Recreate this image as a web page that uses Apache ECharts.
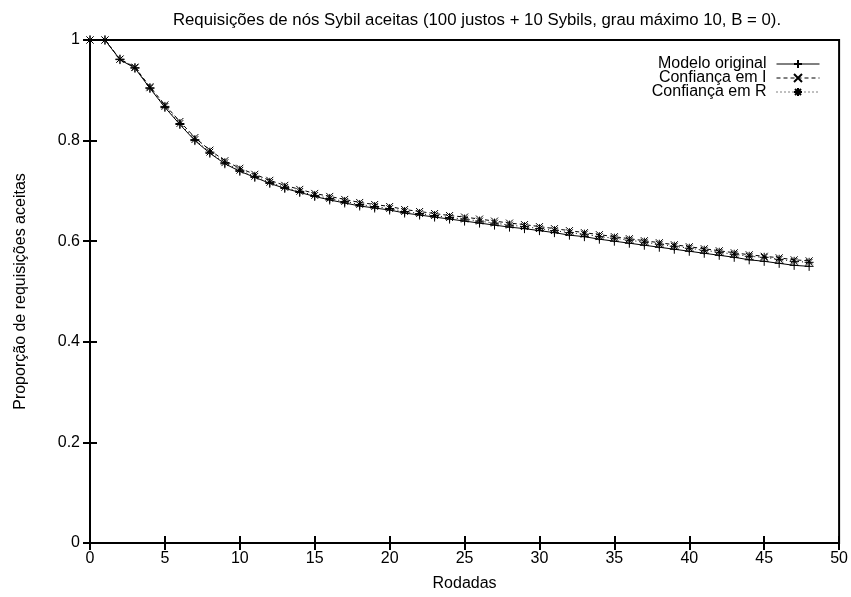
<!DOCTYPE html>
<html>
<head>
<meta charset="utf-8">
<script src="https://cdn.jsdelivr.net/npm/echarts@6/dist/echarts.min.js"></script>
<style>html,body{margin:0;padding:0;background:#fff}#c{width:851px;height:597px}</style>
</head>
<body>
<div id="c"></div>
<script>
var rounds = [];
for (var i = 0; i <= 48; i++) rounds.push(i);
var seriesNames = ['Modelo original', 'Confiança em I', 'Confiança em R'];
var modeloOriginal = [1.000,1.000,0.961,0.944,0.904,0.866,0.832,0.800,0.775,0.754,0.739,0.727,0.715,0.705,0.697,0.689,0.682,0.676,0.670,0.666,0.662,0.656,0.652,0.648,0.644,0.640,0.636,0.632,0.628,0.625,0.621,0.617,0.612,0.609,0.604,0.600,0.596,0.592,0.588,0.584,0.580,0.576,0.572,0.568,0.563,0.560,0.556,0.552,0.550];
var confiancaI = [1.000,1.000,0.962,0.946,0.907,0.871,0.838,0.806,0.781,0.760,0.745,0.733,0.721,0.711,0.703,0.695,0.689,0.683,0.677,0.673,0.669,0.663,0.659,0.655,0.651,0.648,0.644,0.640,0.636,0.633,0.629,0.625,0.621,0.617,0.613,0.609,0.605,0.601,0.597,0.593,0.589,0.585,0.581,0.577,0.573,0.570,0.567,0.563,0.561];
var confiancaR = [1.000,1.000,0.962,0.945,0.905,0.868,0.834,0.802,0.777,0.756,0.741,0.729,0.717,0.707,0.699,0.691,0.685,0.679,0.673,0.669,0.665,0.659,0.655,0.651,0.647,0.644,0.640,0.636,0.632,0.629,0.625,0.621,0.617,0.614,0.609,0.606,0.602,0.598,0.594,0.590,0.586,0.582,0.578,0.574,0.570,0.568,0.564,0.560,0.558];
var xTicks = [0,5,10,15,20,25,30,35,40,45,50];
var yTicks = [0,0.2,0.4,0.6,0.8,1];

function pairs(vals){ return rounds.map(function(r, k){ return [r, vals[k]]; }); }

var FONT = 'Liberation Sans, Arial, sans-serif';
var FS = 16;
var plusSym = 'path://M0,-1L0,1M-1,0L1,0';
var xSym = 'path://M-1,-1L1,1M-1,1L1,-1';
var starSym = 'path://M0,-1L0,1M-1,0L1,0M-0.75,-0.75L0.75,0.75M-0.75,0.75L0.75,-0.75';

function mkSeries(name, vals, sym, size, dash){
  return {
    name: name, type: 'line', data: pairs(vals),
    symbol: sym, symbolSize: size, showSymbol: true,
    lineStyle: {color: '#000', width: 1, type: dash},
    itemStyle: {color: 'none', borderColor: '#000', borderWidth: 1},
    emphasis: {disabled: true}, animation: false, z: 3
  };
}

var chart = echarts.init(document.getElementById('c'), null, {renderer: 'canvas'});
chart.setOption({
  animation: false,
  backgroundColor: '#fff',
  title: {
    text: 'Requisições de nós Sybil aceitas (100 justos + 10 Sybils, grau máximo 10, B = 0).',
    left: 472, top: 7, textAlign: 'center',
    textStyle: {fontFamily: FONT, fontSize: 16.8, fontWeight: 'normal', color: '#000'}
  },
  legend: {
    data: seriesNames, orient: 'vertical', align: 'right',
    right: 26, top: 51, itemGap: -2, itemWidth: 43, itemHeight: 10,
    textStyle: {fontFamily: FONT, fontSize: FS, color: '#000', padding: [0, 5, 0, 0]},
    lineStyle: {width: 1, color: '#000'},
    selectedMode: false
  },
  grid: {left: 90, right: 11, top: 40, bottom: 52, show: true, borderColor: '#000', borderWidth: 2, backgroundColor: 'transparent'},
  xAxis: [{
    type: 'value', min: 0, max: 50, interval: 5,
    name: 'Rodadas', nameLocation: 'middle', nameGap: 33,
    nameTextStyle: {fontFamily: FONT, fontSize: FS, color: '#000'},
    axisLine: {show: false},
    axisTick: {show: true, inside: true, length: 7, lineStyle: {color: '#000', width: 2}},
    axisLabel: {fontFamily: FONT, fontSize: FS, color: '#000', margin: 8},
    splitLine: {show: false}
  }, {
    type: 'value', min: 0, max: 50, interval: 5, position: 'top',
    axisLine: {show: false},
    axisTick: {show: true, inside: true, length: 7, lineStyle: {color: '#000', width: 2}},
    axisLabel: {show: false}, splitLine: {show: false}
  }],
  yAxis: [{
    type: 'value', min: 0, max: 1, interval: 0.2,
    name: 'Proporção de requisições aceitas', nameLocation: 'middle', nameGap: 61, nameRotate: 90,
    nameTextStyle: {fontFamily: FONT, fontSize: FS, color: '#000'},
    axisLine: {show: false},
    axisTick: {show: true, inside: true, length: 7, lineStyle: {color: '#000', width: 2}},
    axisLabel: {fontFamily: FONT, fontSize: FS, color: '#000', margin: 10,
      formatter: function(v){ return String(Math.round(v*10)/10); }},
    splitLine: {show: false}
  }, {
    type: 'value', min: 0, max: 1, interval: 0.2, position: 'right',
    axisLine: {show: false},
    axisTick: {show: true, inside: true, length: 7, lineStyle: {color: '#000', width: 2}},
    axisLabel: {show: false}, splitLine: {show: false}
  }],
  series: [
    mkSeries(seriesNames[0], modeloOriginal, plusSym, 9, 'solid'),
    mkSeries(seriesNames[1], confiancaI, xSym, 7, [4, 3]),
    mkSeries(seriesNames[2], confiancaR, starSym, 9, [1, 3])
  ]
});
</script>
</body>
</html>
